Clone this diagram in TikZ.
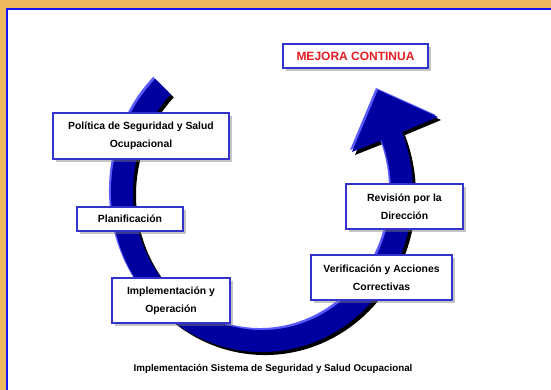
\documentclass[tikz,border=0pt]{standalone}
\usepackage{fontspec}
\setmainfont{Liberation Sans}
\usepackage{tikz}
\usetikzlibrary{shadows}

\tikzset{
  caja/.style={draw={rgb, 255:red, 51; green, 51; blue, 204}, line width=1.4pt, fill=white,
    drop shadow={shadow xshift=3pt, shadow yshift=-3pt, opacity=0.45, fill=gray},
    align=center, inner sep=0.75pt, font=\fontsize{10.4}{18}\selectfont\bfseries},
}

\begin{document}
\begin{tikzpicture}[x=1pt,y=1pt,yscale=-1,xscale=1]
\clip (0,0) rectangle (551,390);

%Shape: Rectangle [background]
\fill [fill={rgb, 255:red, 236; green, 184; blue, 96 }] (0,0) rectangle (551,390);
%Shape: Rectangle [panel]
\draw [draw={rgb, 255:red, 20; green, 20; blue, 240 }, line width=2pt, fill=white] (7,9) rectangle (570,410);

%Shape: Curved Arrow [shadow]
\fill [black, shift={(3,3)}] (155.2,78.9) arc[start angle=225, end angle=-22, x radius=151, y radius=160] -- (438,117) -- (378,90) -- (352,152) -- (381.6,140.3) arc[start angle=-22, end angle=225, x radius=129, y radius=138] -- cycle ;
%Shape: Curved Arrow [highlight]
\fill [fill={rgb, 255:red, 90; green, 90; blue, 255 }, shift={(-2,-2)}] (155.2,78.9) arc[start angle=225, end angle=-22, x radius=151, y radius=160] -- (438,117) -- (378,90) -- (352,152) -- (381.6,140.3) arc[start angle=-22, end angle=225, x radius=129, y radius=138] -- cycle ;
%Shape: Curved Arrow
\fill [fill={rgb, 255:red, 0; green, 0; blue, 160 }] (155.2,78.9) arc[start angle=225, end angle=-22, x radius=151, y radius=160] -- (438,117) -- (378,90) -- (352,152) -- (381.6,140.3) arc[start angle=-22, end angle=225, x radius=129, y radius=138] -- cycle ;

% Text Node
\draw (355.5,56) node (mejora) [caja, minimum width=145, minimum height=24, font=\fontsize{12}{14}\selectfont\bfseries, text={rgb, 255:red, 228; green, 30; blue, 36 }] {MEJORA CONTINUA};
% Text Node
\draw (141,136) node (politica) [caja, minimum width=176, minimum height=46] {Política de Seguridad y Salud\\Ocupacional};
% Text Node
\draw (130,219) node (planificacion) [caja, minimum width=106, minimum height=24] {Planificación};
% Text Node
\draw (171,300.5) node (implementacion) [caja, minimum width=118, minimum height=45] {Implementación y\\Operación};
% Text Node
\draw (381.5,277.5) node (verificacion) [caja, minimum width=141, minimum height=45] {Verificación y Acciones\\Correctivas};
% Text Node
\draw (404.5,206.5) node (revision) [caja, minimum width=117, minimum height=45] {Revisión por la\\Dirección};
% Text Node
\draw (273,369) node (pie) [font=\fontsize{9.8}{12}\selectfont\bfseries] {Implementación Sistema de Seguridad y Salud Ocupacional};
\end{tikzpicture}
\end{document}
